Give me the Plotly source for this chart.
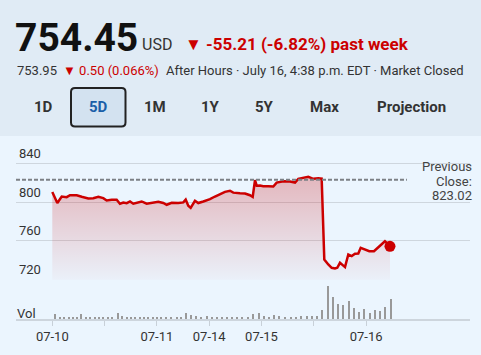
import plotly.graph_objects as go

# ---------------- data ----------------
time_u = [0.0, 0.096, 0.18, 0.275, 0.338, 0.467, 0.562, 0.688, 0.784, 0.88, 0.975,
          1.04, 1.136, 1.231, 1.294, 1.358, 1.423, 1.486, 1.549, 1.614, 1.709, 1.805,
          1.931, 2.027, 2.122, 2.187, 2.283, 2.409, 2.505, 2.551, 2.6, 2.646, 2.728,
          2.791, 2.887, 2.952, 3.015, 3.111, 3.206, 3.302, 3.398, 3.461, 3.589, 3.685,
          3.78, 3.832, 3.876, 3.908, 3.971, 4.034, 4.13, 4.226, 4.29, 4.417, 4.545,
          4.641, 4.704, 4.799, 4.895, 4.99, 5.086, 5.151, 5.201, 5.277, 5.342, 5.405,
          5.449, 5.501, 5.597, 5.66, 5.725, 5.788, 5.851, 5.897, 5.979, 6.061, 6.151,
          6.233, 6.298, 6.361, 6.394, 6.457]
price = [810.3, 799.0, 805.7, 805.0, 807.0, 807.0, 805.4, 803.7, 804.0, 805.4, 804.0,
         801.6, 802.3, 802.3, 798.3, 799.5, 798.8, 800.6, 798.3, 799.0, 800.6, 798.3,
         799.0, 800.3, 799.0, 797.2, 799.3, 799.0, 799.6, 802.5, 796.2, 794.0, 801.3,
         799.0, 800.6, 801.8, 803.0, 805.7, 808.5, 810.5, 811.6, 809.7, 809.0, 808.8,
         807.0, 805.2, 822.6, 816.8, 817.0, 816.2, 816.3, 816.0, 820.0, 821.3, 821.1,
         820.1, 823.9, 824.6, 826.0, 823.9, 824.6, 824.2, 740.8, 735.7, 732.3, 731.6,
         732.3, 737.4, 733.0, 746.0, 744.3, 746.7, 747.0, 752.8, 751.1, 749.4, 749.4,
         753.5, 756.2, 759.6, 758.0, 754.45]

vol_u = [0.046, 0.147, 0.229, 0.314, 0.396, 0.478, 0.554, 0.644, 0.727, 0.811, 0.893,
         0.975, 1.059, 1.141, 1.256, 1.338, 1.423, 1.505, 1.587, 1.671, 1.753, 1.836,
         1.92, 2.002, 2.084, 2.174, 2.27, 2.379, 2.461, 2.556, 2.652, 2.748, 2.843,
         2.952, 3.048, 3.143, 3.239, 3.335, 3.43, 3.526, 3.633, 3.748, 3.843, 3.952,
         4.048, 4.149, 4.245, 4.34, 4.455, 4.564, 4.66, 4.761, 4.864, 4.966, 5.067,
         5.162, 5.266, 5.367, 5.468, 5.564, 5.667, 5.769, 5.87, 5.966, 6.069, 6.17,
         6.266, 6.367, 6.47]
volume = [5.0, 2.0, 2.0, 2.0, 2.0, 2.0, 5.3, 2.0, 2.0, 2.0, 2.0,
          2.3, 2.3, 2.0, 5.7, 3.0, 2.0, 2.0, 2.0, 2.0, 2.0, 2.0,
          2.0, 1.7, 2.0, 2.0, 2.0, 2.0, 2.0, 6.0, 4.3, 3.3, 2.3,
          3.3, 2.3, 2.3, 2.3, 2.3, 2.3, 2.3, 2.3, 2.3, 5.3, 6.0,
          3.3, 2.3, 4.0, 3.3, 2.3, 2.3, 2.0, 3.3, 3.3, 2.7, 3.3,
          9.3, 33.3, 21.7, 15.0, 14.3, 18.0, 10.7, 7.3, 10.3, 6.3, 9.0,
          8.3, 12.3, 20.0]

prev_close = 823.02
x_tick_vals = [0, 1, 2, 3, 4, 5, 6]
x_tick_text = ["07-10", "", "07-11", "07-14", "07-15", "", "07-16"]
y_tick_vals = [720, 760, 800, 840]
range_buttons = ["1D", "5D", "1M", "1Y", "5Y", "Max", "Projection"]
selected_button = "5D"

# ---------------- layout geometry ----------------
W, H = 481, 355
ML, MR, MT, MB = 16, 11, 140, 36
PW, PH = W - ML - MR, H - MT - MB
X_RANGE = [-0.694, 7.987]
P_RANGE = [719.4, 863.9]
FILL_BASE = 720
P_DOMAIN = [0.2162, 1.0]
V_DOMAIN = [0.0, 0.19]

def px(x):
    return (x - ML) / PW

def py(y):
    return (H - MB - y) / PH

FONT = "Roboto, Arial, sans-serif"
RED = "#CC0000"
TXT = "#333333"

fig = go.Figure()

# baseline for the fill
fig.add_trace(go.Scatter(x=[time_u[0], time_u[-1]], y=[FILL_BASE, FILL_BASE],
                         mode="lines", line=dict(width=0, color="rgba(0,0,0,0)"),
                         hoverinfo="skip", showlegend=False, xaxis="x", yaxis="y"))
fig.add_trace(go.Scatter(
    x=time_u, y=price, mode="lines", line=dict(color=RED, width=2.5),
    fill="tonexty",
    fillgradient=dict(type="vertical",
                      colorscale=[[0, "rgba(204,0,0,0.02)"], [1, "rgba(204,0,0,0.25)"]],
                      start=FILL_BASE, stop=824),
    showlegend=False, xaxis="x", yaxis="y"))
fig.add_trace(go.Scatter(x=[time_u[-1]], y=[price[-1]], mode="markers",
                         marker=dict(color=RED, size=11), showlegend=False,
                         xaxis="x", yaxis="y"))
fig.add_trace(go.Bar(x=vol_u, y=volume, width=0.04, marker=dict(color="#999999", line=dict(width=0)),
                     showlegend=False, xaxis="x", yaxis="y2"))

shapes = []
# header background
shapes.append(dict(type="rect", xref="paper", yref="paper", x0=px(0), x1=px(W),
                   y0=py(136), y1=py(0), fillcolor="#E0EBF5", line=dict(width=0), layer="below"))
# previous close dashed line
shapes.append(dict(type="line", xref="x", yref="y", x0=X_RANGE[0], x1=6.78,
                   y0=prev_close, y1=prev_close,
                   line=dict(color="#7C8085", width=2, dash="4px,2px")))

# 5D button box with rounded corners
bx0, bx1, by0, by1, r = 71, 125.5, 88, 126.5, 4
path = (f"M {px(bx0+r)},{py(by0)} L {px(bx1-r)},{py(by0)} Q {px(bx1)},{py(by0)} {px(bx1)},{py(by0+r)} "
        f"L {px(bx1)},{py(by1-r)} Q {px(bx1)},{py(by1)} {px(bx1-r)},{py(by1)} "
        f"L {px(bx0+r)},{py(by1)} Q {px(bx0)},{py(by1)} {px(bx0)},{py(by1-r)} "
        f"L {px(bx0)},{py(by0+r)} Q {px(bx0)},{py(by0)} {px(bx0+r)},{py(by0)} Z")
shapes.append(dict(type="path", xref="paper", yref="paper", path=path,
                   fillcolor="#D3E2F0", line=dict(color="#222222", width=2)))

ann = []
def text(x, y, s, size, color=TXT, bold=False, xanchor="left"):
    ann.append(dict(xref="paper", yref="paper", x=px(x), y=py(y), text=(f"<b>{s}</b>" if bold else s),
                    showarrow=False, xanchor=xanchor, yanchor="middle",
                    font=dict(family=FONT, size=size, color=color), borderpad=0))

text(14, 38, "754.45", 39, "#111111", bold=True)
text(141, 45, "USD", 16, TXT)
text(184, 44.5, "▼ -55.21 (-6.82%) past week", 17, RED, bold=True)
text(15.5, 70.5, "753.95", 13, TXT)
text(62, 70.5, "▼ 0.50 (0.066%)", 13, RED)
text(165, 70.5, "After Hours · July 16, 4:38 p.m. EDT · Market Closed", 13, TXT)

btn_centers = [43.5, 98, 154.5, 210.5, 264.5, 324.5, 411]
for lbl, cx in zip(range_buttons, btn_centers):
    text(cx, 107, lbl, 15, "#1A5FA8" if lbl == selected_button else TXT, bold=True, xanchor="center")

text(473, 166.5, "Previous", 13, "#444444", xanchor="right")
text(473, 181, "Close:", 13, "#444444", xanchor="right")
text(473, 195.5, f"{prev_close:.2f}", 13, "#444444", xanchor="right")
text(16, 313.5, "Vol", 13, TXT)

fig.update_layout(
    width=W, height=H, margin=dict(l=ML, r=MR, t=MT, b=MB),
    paper_bgcolor="#EBF5FE", plot_bgcolor="rgba(0,0,0,0)",
    showlegend=False, bargap=0, hovermode=False,
    shapes=shapes, annotations=ann,
    xaxis=dict(range=X_RANGE, anchor="y2", tickmode="array", tickvals=x_tick_vals,
               ticktext=x_tick_text, ticks="outside", ticklen=5, tickcolor="#C8D0D8",
               tickwidth=1, showline=True, linecolor="#CDD5DD", linewidth=2,
               showgrid=False, zeroline=False, ticklabelstandoff=-1,
               tickfont=dict(family=FONT, size=13, color=TXT)),
    yaxis=dict(domain=P_DOMAIN, range=P_RANGE, tickmode="array", tickvals=y_tick_vals,
               showgrid=True, gridcolor="#CED6DE", gridwidth=1, zeroline=False,
               showline=False, ticks="", ticklabelposition="inside", ticklabelshift=-10,
               ticklabelstandoff=0,
               tickfont=dict(family=FONT, size=13, color=TXT)),
    yaxis2=dict(domain=V_DOMAIN, range=[0, 34], showgrid=False, zeroline=False,
                showline=False, ticks="", showticklabels=False),
)

fig.write_html("out.html", config={"displayModeBar": False},
               post_script="document.body.style.margin='0';document.body.style.padding='0';")
